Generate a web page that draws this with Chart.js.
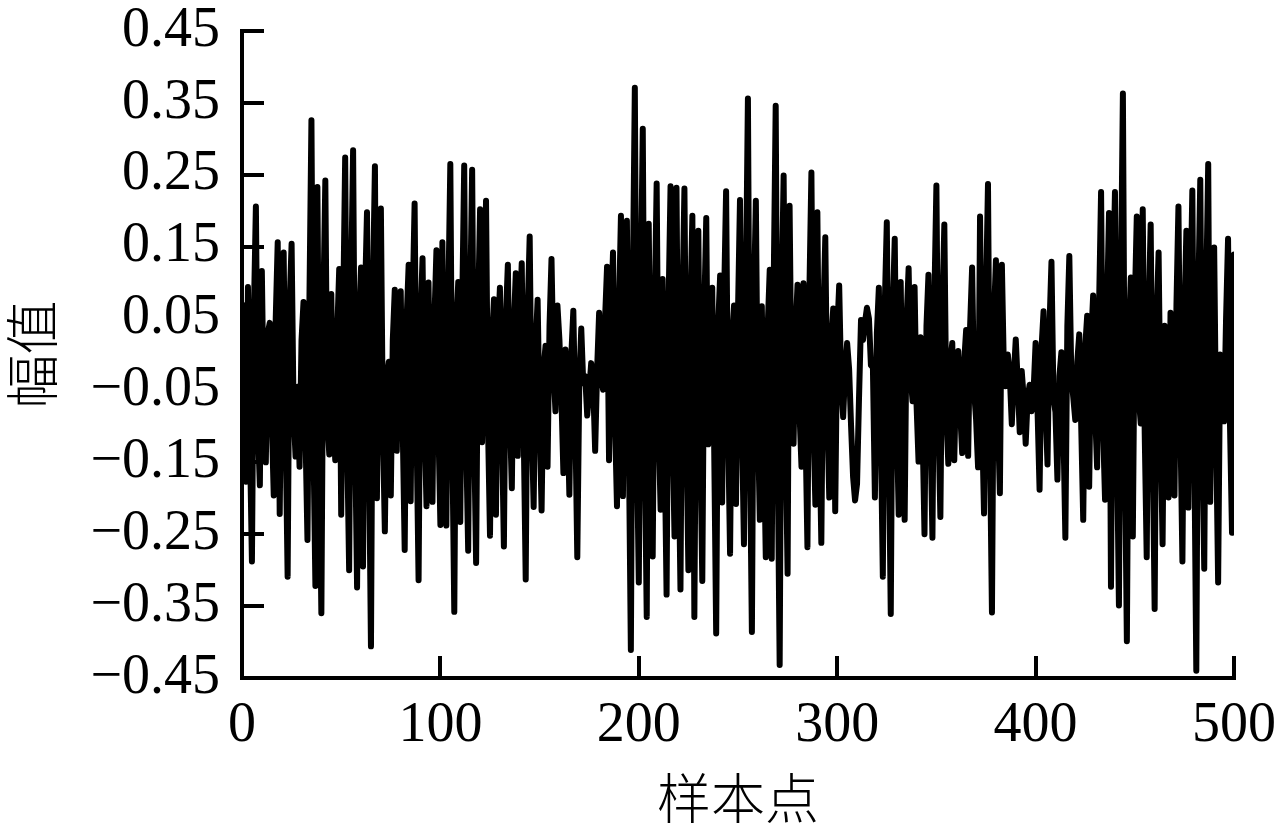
<!DOCTYPE html>
<html lang="zh">
<head>
<meta charset="utf-8">
<title>幅值</title>
<script src="https://cdn.jsdelivr.net/npm/chart.js@4"></script>
<style>
    html, body { margin: 0; padding: 0; background: #fff; }
    canvas { display: block; }
</style>
</head>
<body>
<canvas id="signalChart" width="1288" height="837"></canvas>
<script>
// Valores, uma linha para cada 10 amostras
const amplitudes = [
    0.07, -0.11, -0.177, 0.094, -0.12, -0.288, 0.06, 0.206, -0.1, -0.182,
    0.116, -0.08, -0.15, 0.03, 0.044, -0.09, -0.196, 0.05, 0.156, -0.222,
    0.04, 0.142, -0.11, -0.309, 0.07, 0.154, -0.08, -0.142, -0.045, -0.156,
    0.02, 0.073, -0.11, -0.258, 0.08, 0.326, -0.12, -0.322, 0.233, -0.13,
    -0.36, 0.07, 0.242, -0.09, -0.139, 0.084, -0.09, -0.147, 0.03, 0.119,
    -0.223, 0.06, 0.274, -0.12, -0.3, 0.1, 0.284, -0.11, -0.324, 0.05,
    0.121, -0.295, 0.08, 0.198, -0.13, -0.406, 0.09, 0.262, -0.2, 0.06,
    0.203, -0.1, -0.246, -0.03, -0.01, -0.196, 0.02, 0.09, -0.134, 0.03,
    0.088, -0.1, -0.272, 0.05, 0.125, -0.204, 0.07, 0.21, -0.11, -0.314,
    0.05, 0.134, -0.09, -0.211, 0.1, -0.08, -0.205, 0.05, 0.145, -0.1,
    -0.237, 0.156, -0.1, -0.238, 0.08, 0.265, -0.12, -0.358, 0.04, 0.101,
    -0.233, 0.07, 0.263, -0.12, -0.273, 0.07, 0.257, -0.11, -0.29, 0.06,
    0.202, -0.122, 0.06, 0.214, -0.1, -0.252, 0.02, 0.077, -0.223, 0.03,
    0.093, -0.1, -0.267, 0.05, 0.125, -0.08, -0.186, 0.04, 0.113, -0.141,
    0.05, 0.127, -0.11, -0.313, 0.06, 0.164, -0.09, -0.212, 0.01, 0.076,
    -0.09, -0.217, -0.02, 0.012, -0.156, 0.04, 0.133, -0.02, -0.079, 0.068,
    0.02, -0.06, -0.165, 0.007, -0.07, -0.195, 0, 0.061, -0.09, -0.282,
    -0.04, 0.036, -0.04, -0.03, -0.085, -0.05, -0.012, -0.04, -0.134, -0.02,
    0.058, -0.03, -0.049, 0.05, 0.122, -0.147, 0.05, 0.142, -0.09, -0.211,
    0.06, 0.193, -0.197, 0.07, 0.186, -0.13, -0.411, 0.1, 0.371, -0.12,
    -0.317, 0.09, 0.314, -0.13, -0.365, 0.182, -0.1, -0.281, 0.06, 0.238,
    -0.1, -0.216, 0.105, -0.12, -0.334, 0.07, 0.234, -0.1, -0.253, 0.232,
    -0.12, -0.327, 0.07, 0.231, -0.11, -0.3, 0.06, 0.193, -0.365, 0.05,
    0.172, -0.12, -0.315, 0.06, 0.19, -0.125, 0.03, 0.093, -0.13, -0.388,
    0.04, 0.11, -0.206, 0.08, 0.227, -0.1, -0.277, 0.02, 0.068, -0.208,
    0.06, 0.215, -0.1, -0.264, 0.1, 0.356, -0.13, -0.386, 0.07, 0.214,
    -0.09, -0.23, 0.067, -0.11, -0.282, 0.04, 0.118, -0.284, 0.1, 0.346,
    -0.14, -0.432, 0.08, 0.249, -0.11, -0.305, 0.207, -0.06, -0.124, 0.03,
    0.097, -0.08, -0.156, 0.099, -0.1, -0.268, 0.09, 0.253, -0.09, -0.209,
    0.198, -0.1, -0.262, 0.05, 0.163, -0.08, -0.199, 0.02, 0.064, -0.218,
    0.03, 0.096, -0.04, -0.087, -0.02, 0.016, -0.02, -0.1, -0.17, -0.203,
    -0.18, -0.06, 0.048, 0.02, 0.045, 0.065, 0.05, -0.015, -0.018, -0.199,
    0.03, 0.093, -0.11, -0.309, 0.07, 0.184, -0.12, -0.361, 0.06, 0.161,
    -0.09, -0.223, 0.101, -0.1, -0.23, 0.05, 0.12, -0.03, -0.065, 0.094,
    -0.07, -0.149, 0.024, -0.1, -0.25, 0.04, 0.111, -0.1, -0.255, 0.08,
    0.235, -0.09, -0.226, 0.06, 0.181, -0.08, -0.152, -0.01, 0.016, -0.147,
    -0.02, 0.005, -0.08, -0.137, -0.01, 0.034, -0.141, 0.04, 0.121, -0.05,
    -0.09, -0.157, 0.192, -0.09, -0.221, 0.08, 0.237, -0.13, -0.359, 0.05,
    0.131, -0.09, -0.193, 0.125, -0.02, -0.044, 0, -0.03, -0.097, -0.03,
    0.021, -0.04, -0.108, -0.023, -0.06, -0.124, -0.06, -0.042, -0.079, -0.05,
    0.016, -0.08, -0.188, 0.01, 0.06, -0.07, -0.153, 0.04, 0.129, -0.06,
    -0.08, -0.174, -0.03, 0.003, -0.1, -0.255, 0.04, 0.137, -0.03, -0.06,
    -0.091, -0.01, 0.028, -0.1, -0.23, 0.01, 0.054, -0.184, 0.02, 0.082,
    -0.08, -0.157, 0.07, 0.226, -0.1, -0.202, 0.06, 0.197, -0.323, 0.08,
    0.226, -0.12, -0.349, 0.1, 0.363, -0.13, -0.399, 0.03, 0.107, -0.253,
    0.07, 0.192, -0.06, -0.096, 0.202, -0.11, -0.282, 0.06, 0.181, -0.12,
    -0.354, 0.05, 0.142, -0.1, -0.264, 0.04, -0.07, -0.199, 0.058, -0.09,
    -0.196, 0.07, 0.206, -0.1, -0.288, 0.05, 0.172, -0.213, 0.07, 0.228,
    -0.13, -0.44, 0.08, 0.243, -0.11, -0.298, 0.09, 0.265, -0.205, 0.04,
    0.149, -0.11, -0.317, 0, -0.009, -0.093, 0.05, 0.161, -0.1, -0.248,
    0.139
];
const xTicks = [0, 100, 200, 300, 400, 500];
const yTicks = [0.45, 0.35, 0.25, 0.15, 0.05, -0.05, -0.15, -0.25, -0.35, -0.45];
const xTitle = '样本点';
const yTitle = '幅值';

const tickFont = { family: '"Liberation Serif"', size: 56 };
const titleFont = { family: '"Noto Sans CJK SC"', size: 54, weight: '300' };

// Coloca as marcas das escalas a partir das listas acima
function setTicks(list) {
    return scale => {
        scale.ticks = list.map(value => ({ value: value }));
    };
}

// Tamanho fixo da escala, sem a margem extra que os rótulos pedem
function fixSize(scale, size) {
    if (scale.isHorizontal()) {
        scale.height = size;
    } else {
        scale.width = size;
    }
    scale.paddingLeft = 0;
    scale.paddingRight = 0;
    scale.paddingTop = 0;
    scale.paddingBottom = 0;
}

function formatY(value) {
    const text = Math.abs(value).toFixed(2);
    return value < 0 ? '\u2212' + text : text;
}

const ctx = document.getElementById('signalChart').getContext('2d');

new Chart(ctx, {
    type: 'line',
    data: {
        datasets: [{
            data: amplitudes.map((value, index) => ({ x: index, y: value })),
            borderColor: '#000',
            borderWidth: 6,
            borderJoinStyle: 'round',
            borderCapStyle: 'round',
            pointRadius: 0,
            tension: 0
        }]
    },
    options: {
        responsive: false,
        animation: false,
        events: [],
        layout: { padding: { top: 31, right: 54, left: 0, bottom: 0 } },
        plugins: {
            legend: { display: false },
            tooltip: { enabled: false }
        },
        scales: {
            x: {
                type: 'linear',
                min: 0,
                max: 500,
                afterBuildTicks: setTicks(xTicks),
                afterFit: scale => fixSize(scale, 159),
                grid: { drawOnChartArea: false, color: '#000', lineWidth: 4, tickLength: -22 },
                border: { color: '#000', width: 4 },
                ticks: {
                    color: '#000',
                    font: tickFont,
                    padding: 37,
                    maxRotation: 0,
                    autoSkip: false,
                    callback: value => String(value)
                },
                title: { display: true, text: xTitle, color: '#000', font: titleFont, padding: { top: 0, bottom: 6 } }
            },
            y: {
                type: 'linear',
                min: -0.45,
                max: 0.45,
                afterBuildTicks: setTicks(yTicks),
                afterFit: scale => fixSize(scale, 242),
                grid: { drawOnChartArea: false, color: '#000', lineWidth: 4, tickLength: -22 },
                border: { color: '#000', width: 4 },
                ticks: {
                    color: '#000',
                    font: tickFont,
                    padding: 44,
                    autoSkip: false,
                    callback: value => formatY(value)
                },
                title: { display: true, text: yTitle, color: '#000', font: titleFont, padding: { top: 0, bottom: 0 } }
            }
        }
    }
});
</script>
</body>
</html>
